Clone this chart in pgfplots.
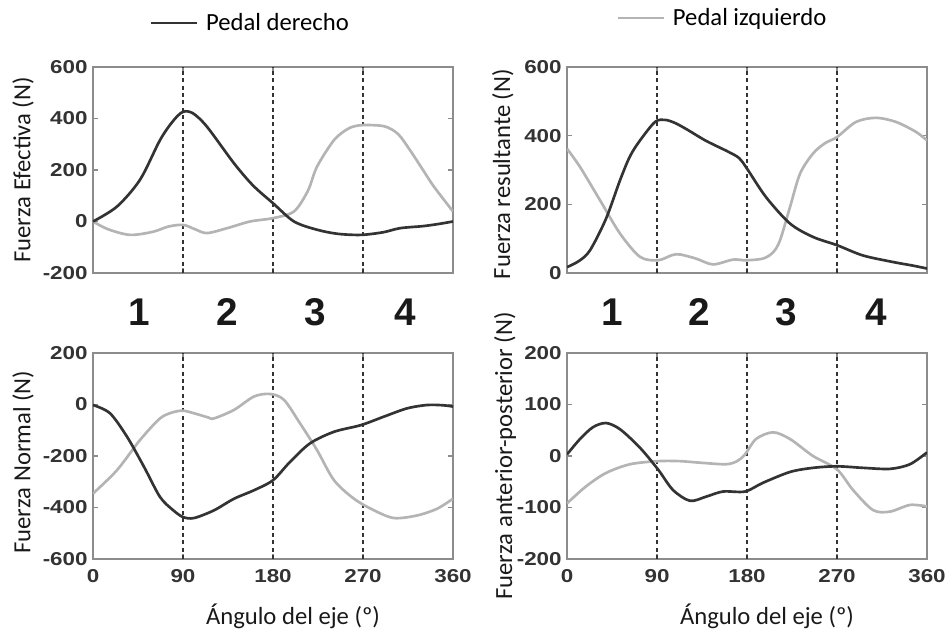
\documentclass[border=0pt]{standalone}
\usepackage{fontspec}
\usepackage{pgfplots}
\pgfplotsset{compat=1.18}
\setmainfont{Carlito}
\newfontfamily\tickfont{Liberation Sans}[FakeStretch=1.2]
\newfontfamily\numfont{Liberation Sans}

\definecolor{dark}{HTML}{333333}
\definecolor{light}{HTML}{B4B4B4}
\definecolor{boxgray}{HTML}{8C8C8C}

\tikzset{num/.style={font=\numfont\bfseries\fontsize{29}{31}\selectfont, text=black!90}}

\pgfplotsset{
  panel/.style={
    scale only axis, width=270pt, height=154.5pt,
    anchor=north west, xmin=0, xmax=360,
    xtick={0,90,180,270,360},
    axis line style={boxgray, line width=1.1pt},
    tick style={boxgray, line width=0.8pt},
    tick align=inside, major tick length=4pt,
    ticklabel style={font=\tickfont\bfseries\fontsize{14}{15}\selectfont, text=black!80},
    /pgf/number format/assume math mode=true,
    /pgf/number format/1000 sep={},
    label style={font=\fontsize{18.5}{20}\selectfont, text=black!90},
    ylabel style={anchor=center},
    xlabel style={at={(axis description cs:0.5,0)}, anchor=center, xshift=15pt, yshift=-42.75pt},
    xticklabel style={yshift=-4pt},
    yticklabel style={xshift=-0.5pt},
    legend style={draw=none, fill=none, inner sep=0pt, anchor=west,
      font=\fontsize{18.5}{20}\selectfont},
    legend image code/.code={\draw[#1] (0pt,0pt) -- (34pt,0pt); \path (38pt,0pt);},
    clip mode=individual,
  },
  der/.style={dark, line width=2pt, smooth, tension=0.5},
  izq/.style={light, line width=2pt, smooth, tension=0.5},
  sep/.style={dark, line width=1.1pt, dash pattern=on 3pt off 2.5pt, forget plot},
}

\begin{document}
\begin{tikzpicture}
\path[use as bounding box] (0pt,0pt) rectangle (710.25pt,-474pt);

% Fuerza efectiva
\begin{axis}[panel, at={(69.75pt,-50.25pt)}, ymin=-200, ymax=600,
  ytick={-200,0,200,400,600}, xticklabels={},
  ylabel={Fuerza Efectiva (N)},
  ylabel style={at={(axis description cs:-0.194,0.5)}},
  legend style={at={(axis description cs:0.158,1.214)}}]
\addplot[sep] coordinates {(90,-200) (90,600)};
\addplot[sep] coordinates {(180,-200) (180,600)};
\addplot[sep] coordinates {(270,-200) (270,600)};
\addplot[izq, forget plot] coordinates {
 (0,0) (15,-30) (37,-52) (60,-40) (75,-20) (90,-13) (102,-30) (114,-45)
 (135,-25) (157,0) (180,13) (201,39) (215,120) (224,213) (241,316)
 (255,360) (268,374) (291,370) (305,340) (317,277) (330,200) (341,135) (360,39)};
\addplot[der] coordinates {
 (0,0) (24,58) (47,162) (67,316) (80,390) (90,426) (100,420) (114,368)
 (141,226) (160,140) (180,71) (201,0) (224,-32) (245,-48) (268,-52)
 (290,-42) (307,-26) (330,-18) (345,-10) (360,0)};
\addlegendentry{Pedal derecho}
\end{axis}

% Fuerza resultante
\begin{axis}[panel, at={(425.25pt,-50.25pt)}, ymin=0, ymax=600,
  ytick={0,200,400,600}, xticklabels={},
  ylabel={Fuerza resultante (N)},
  ylabel style={at={(axis description cs:-0.178,0.48)}},
  legend style={at={(axis description cs:0.138,1.238)}}]
\addplot[sep] coordinates {(90,0) (90,600)};
\addplot[sep] coordinates {(180,0) (180,600)};
\addplot[sep] coordinates {(270,0) (270,600)};
\addplot[izq] coordinates {
 (0,362) (13,309) (33,212) (53,115) (73,47) (91,37) (105,52) (113,54)
 (129,42) (146,25) (166,39) (179,37) (196,42) (206,60) (213,95) (223,192)
 (233,289) (246,348) (258,378) (270,396) (289,440) (309,452) (329,440)
 (349,411) (360,386)};
\addlegendentry{Pedal izquierdo}
\addplot[der, forget plot] coordinates {
 (0,17) (12,35) (23,66) (39,158) (53,270) (63,340) (73,386) (88,440)
 (98,446) (108,437) (120,418) (139,385) (160,355) (172,335) (180,304)
 (199,221) (223,144) (246,105) (270,81) (296,51) (326,32) (345,22) (360,13)};
\end{axis}

% Fuerza normal
\begin{axis}[panel, at={(69.75pt,-264.75pt)}, ymin=-600, ymax=200,
  ytick={-600,-400,-200,0,200},
  ylabel={Fuerza Normal (N)},
  ylabel style={at={(axis description cs:-0.194,0.47)}},
  xlabel={Ángulo del eje (º)}]
\addplot[sep] coordinates {(90,-600) (90,200)};
\addplot[sep] coordinates {(180,-600) (180,200)};
\addplot[sep] coordinates {(270,-600) (270,200)};
\addplot[izq] coordinates {
 (0,-346) (24,-255) (47,-138) (67,-54) (80,-30) (90,-24) (101,-34)
 (115,-50) (121,-54) (141,-21) (161,31) (177,41) (191,18) (207,-73)
 (224,-177) (241,-294) (261,-366) (281,-411) (301,-441) (324,-431)
 (344,-405) (360,-366)};
\addplot[der] coordinates {
 (0,-2) (17,-34) (34,-125) (51,-242) (67,-359) (80,-410) (90,-437)
 (101,-441) (121,-411) (141,-366) (161,-333) (180,-294) (197,-223)
 (217,-151) (241,-106) (268,-80) (291,-47) (314,-15) (334,-2) (350,-3) (360,-8)};
\node[num] at (axis description cs:0.128,1.2) {1};
\node[num] at (axis description cs:0.372,1.2) {2};
\node[num] at (axis description cs:0.617,1.2) {3};
\node[num] at (axis description cs:0.867,1.2) {4};
\end{axis}

% Fuerza anterior-posterior
\begin{axis}[panel, at={(425.25pt,-264.75pt)}, ymin=-200, ymax=200,
  ytick={-200,-100,0,100,200},
  ylabel={Fuerza anterior-posterior (N)},
  ylabel style={at={(axis description cs:-0.172,0.5)}},
  xlabel={Ángulo del eje (º)}]
\addplot[sep] coordinates {(90,-200) (90,200)};
\addplot[sep] coordinates {(180,-200) (180,200)};
\addplot[sep] coordinates {(270,-200) (270,200)};
\addplot[izq] coordinates {
 (0,-92) (19,-59) (39,-33) (63,-16) (91,-10) (113,-10) (133,-13)
 (159,-16) (170,-10) (178,3) (189,33) (206,46) (223,33) (246,0)
 (270,-26) (286,-66) (306,-105) (323,-108) (343,-95) (360,-98)};
\addplot[der] coordinates {
 (0,3) (13,33) (26,56) (39,64) (53,52) (73,16) (91,-26) (106,-66)
 (123,-87) (139,-79) (156,-69) (178,-69) (196,-52) (223,-31) (246,-23)
 (270,-20) (296,-23) (323,-25) (343,-16) (360,7)};
\node[num] at (axis description cs:0.125,1.2) {1};
\node[num] at (axis description cs:0.366,1.2) {2};
\node[num] at (axis description cs:0.609,1.2) {3};
\node[num] at (axis description cs:0.859,1.2) {4};
\end{axis}
\end{tikzpicture}
\end{document}
